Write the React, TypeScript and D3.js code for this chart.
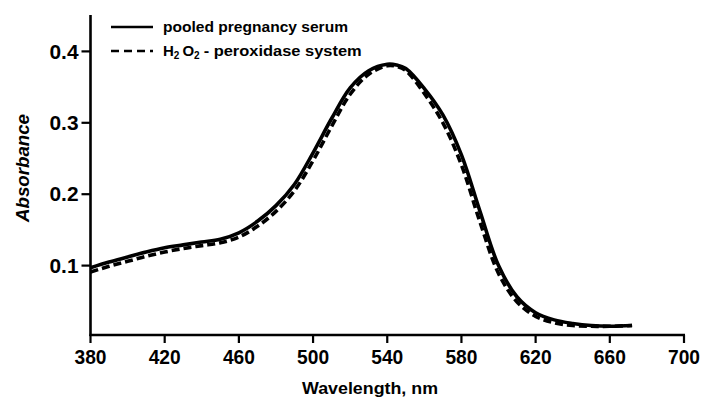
import React from "react";
import * as d3 from "d3";

const wavelengths = [380, 390, 400, 410, 420, 430, 440, 450, 460, 470, 480, 490, 500, 510, 520, 530, 540, 545, 550, 560, 570, 580, 590, 600, 610, 620, 630, 640, 650, 660, 672];
const serum = [0.097, 0.105, 0.112, 0.119, 0.125, 0.129, 0.133, 0.137, 0.146, 0.162, 0.184, 0.214, 0.258, 0.306, 0.349, 0.373, 0.382, 0.381, 0.376, 0.348, 0.311, 0.255, 0.176, 0.100, 0.056, 0.034, 0.024, 0.019, 0.016, 0.015, 0.016];
const peroxidase = [0.091, 0.099, 0.106, 0.113, 0.119, 0.124, 0.128, 0.132, 0.140, 0.155, 0.176, 0.205, 0.247, 0.295, 0.340, 0.368, 0.380, 0.379, 0.373, 0.341, 0.300, 0.241, 0.161, 0.089, 0.049, 0.029, 0.020, 0.016, 0.015, 0.015, 0.016];
const xTicks = [380, 420, 460, 500, 540, 580, 620, 660, 700];
const yTicks = [0.1, 0.2, 0.3, 0.4];

const W = 706;
const H = 403;
const FONT = "'Liberation Sans', Arial, sans-serif";

export default function App() {
  const x = d3.scaleLinear().domain([380, 700]).range([90.5, 684]);
  const y = d3.scaleLinear().domain([0, 0.4]).range([337, 51.4]);
  const axisY = 335;

  const line = d3
    .line<number>()
    .x((_, i) => x(wavelengths[i]))
    .y((d) => y(d))
    .curve(d3.curveCatmullRom.alpha(0.5));

  return (
    <svg width={W} height={H} style={{ position: "absolute", left: 0, top: 0, background: "#fff" }}>
      <rect width={W} height={H} fill="#fff" />
      {/* axes */}
      <line x1={x(380)} x2={x(380)} y1={15} y2={axisY + 1} stroke="#000" strokeWidth={2.6} />
      <line x1={x(380) - 1} x2={x(700) + 1} y1={axisY} y2={axisY} stroke="#000" strokeWidth={2.6} />
      {yTicks.map((t) => (
        <g key={"y" + t}>
          <line x1={x(380) - 9} x2={x(380)} y1={y(t)} y2={y(t)} stroke="#000" strokeWidth={2.2} />
          <text
            x={x(380) - 12}
            y={y(t)}
            dy="0.36em"
            textAnchor="end"
            fontFamily={FONT}
            fontSize={20}
            fontWeight="bold"
            textLength={29}
            lengthAdjust="spacingAndGlyphs"
          >
            {t.toFixed(1)}
          </text>
        </g>
      ))}
      {xTicks.map((t) => (
        <g key={"x" + t}>
          <line x1={x(t)} x2={x(t)} y1={axisY} y2={axisY + 8} stroke="#000" strokeWidth={2.2} />
          <text
            x={x(t)}
            y={364}
            textAnchor="middle"
            fontFamily={FONT}
            fontSize={20}
            fontWeight="bold"
            textLength={32}
            lengthAdjust="spacingAndGlyphs"
          >
            {t}
          </text>
        </g>
      ))}
      <text
        x={370}
        y={394}
        textAnchor="middle"
        fontFamily={FONT}
        fontSize={17}
        fontWeight="bold"
        textLength={136}
        lengthAdjust="spacingAndGlyphs"
      >
        Wavelength, nm
      </text>
      <text
        transform={`translate(29,168) rotate(-90)`}
        textAnchor="middle"
        fontFamily={FONT}
        fontSize={18}
        fontWeight="bold"
        fontStyle="italic"
        textLength={108}
        lengthAdjust="spacingAndGlyphs"
      >
        Absorbance
      </text>

      {/* curves */}
      <path d={line(serum) || ""} fill="none" stroke="#000" strokeWidth={3.6} />
      <path d={line(peroxidase) || ""} fill="none" stroke="#000" strokeWidth={3.6} strokeDasharray="8 4" />

      {/* legend */}
      <line x1={111} x2={153} y1={27} y2={27} stroke="#000" strokeWidth={2.6} />
      <line x1={111} x2={153} y1={51} y2={51} stroke="#000" strokeWidth={2.6} strokeDasharray="8 5" />
      <text
        x={163}
        y={32}
        fontFamily={FONT}
        fontSize={15}
        fontWeight="bold"
        textLength={185}
        lengthAdjust="spacingAndGlyphs"
      >
        pooled pregnancy serum
      </text>
      <text x={163} y={56} fontFamily={FONT} fontSize={15} fontWeight="bold">
        H
        <tspan fontSize={10} dy={3}>2</tspan>
        <tspan dx={3} dy={-3}>O</tspan>
        <tspan fontSize={10} dy={3}>2</tspan>
        <tspan dx={4} dy={-3} textLength={158} lengthAdjust="spacingAndGlyphs">- peroxidase system</tspan>
      </text>
    </svg>
  );
}
